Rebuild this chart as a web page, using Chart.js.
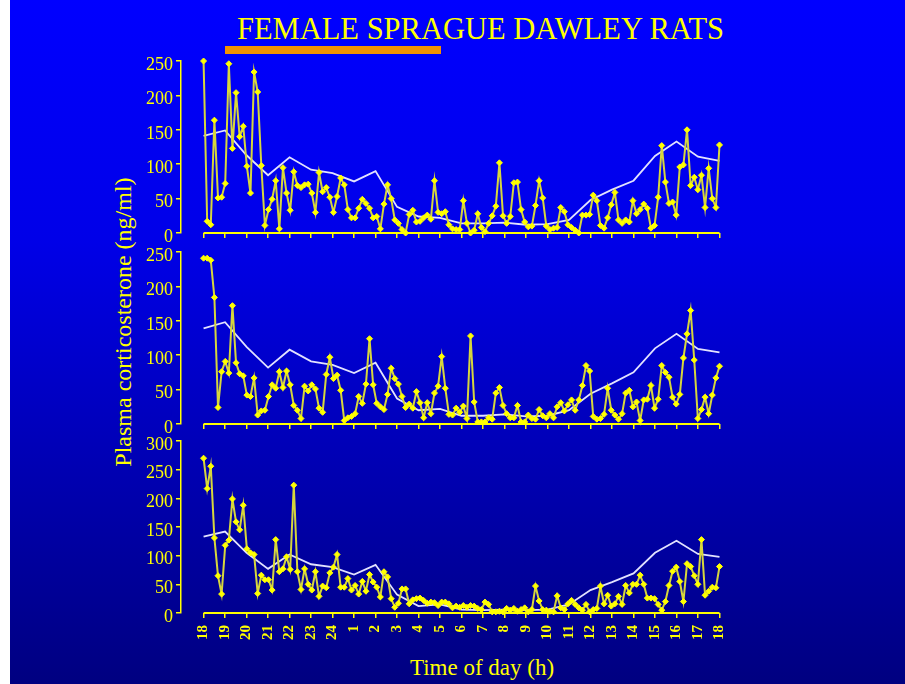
<!DOCTYPE html>
<html>
<head>
<meta charset="utf-8">
<script src="https://cdn.jsdelivr.net/npm/chart.js@4.4.1/dist/chart.umd.min.js"></script>
<style>
  html, body { margin: 0; padding: 0; }
  body { width: 905px; height: 684px; position: relative; overflow: hidden; background: #fff; }
  #slide { position: absolute; left: 10px; top: 0; width: 895px; height: 684px;
           background: linear-gradient(#0000ff 0%, #0000e8 35%, #0000a8 75%, #000080 100%); }
  canvas { position: absolute; }
  .txt { position: absolute; color: #ffff00; font-family: 'Liberation Serif', 'Times New Roman', serif; white-space: nowrap; }
  #title { left: 0; width: 961px; top: 14px; text-align: center; font-size: 30.5px; line-height: 31px; }
  #bar { position: absolute; left: 225px; top: 46px; width: 216px; height: 8px; background: #f39200; }
  #ytitle { left: -77px; width: 400px; top: 308px; text-align: center; font-size: 24px; line-height: 28px; transform: rotate(-90deg); }
  #xtitle { left: 282px; width: 400px; top: 654px; text-align: center; font-size: 23px; line-height: 28px; }
</style>
</head>
<body>
<div id="slide"></div>
<div class="txt" id="title">FEMALE SPRAGUE DAWLEY RATS</div>
<div id="bar"></div>
<div class="txt" id="ytitle">Plasma corticosterone (ng/ml)</div>
<div class="txt" id="xtitle">Time of day (h)</div>
<canvas id="panelA" width="700" height="210" style="left:100px;top:40px"></canvas>
<canvas id="panelB" width="700" height="210" style="left:100px;top:235px"></canvas>
<canvas id="panelC" width="700" height="259" style="left:100px;top:425px"></canvas>
<script>
// tick labels, 18h -> 18h next day
const hourLabels = ['18','19','20','21','22','23','24','1','2','3','4','5','6','7','8','9','10','11','12','13','14','15','16','17','18']

// individual samples (ng/ml), one panel each
const ratA = [250,17,12,164,51,52,72,246,123,204,
  140,155,97,58,234,205,98,11,34,49,
  76,6,95,58,33,89,69,66,70,71,
  58,30,88,60,66,52,30,53,80,70,
  34,22,22,36,49,43,36,22,24,6,
  42,70,50,19,14,5,0,27,33,16,
  17,22,26,20,76,30,28,31,12,6,
  5,5,47,14,0,4,28,8,2,14,
  25,39,102,25,14,24,73,74,34,16,
  9,10,40,76,51,10,5,7,8,37,
  31,12,8,4,0,26,26,27,55,47,
  11,7,22,41,59,19,14,19,16,47,
  28,34,42,36,7,11,52,127,74,43,
  45,26,96,99,150,69,81,63,84,37,
  94,50,37,128]

const ratB = [241,241,238,184,24,76,91,74,172,89,
  73,70,42,40,67,13,19,20,40,57,
  52,76,53,77,57,27,20,8,55,48,
  57,51,23,17,72,97,66,71,49,5,
  9,11,15,40,30,58,124,57,30,25,
  21,43,81,66,58,40,24,29,23,47,
  31,9,31,15,45,55,98,52,14,13,
  23,17,26,8,128,32,3,3,3,9,
  7,45,53,27,15,9,9,27,3,3,
  13,8,7,21,12,9,15,9,25,31,
  19,28,35,20,35,56,85,77,11,7,
  8,14,52,20,13,7,15,45,49,25,
  32,5,35,36,56,23,36,85,75,68,
  39,29,43,96,131,165,93,8,21,39,
  15,42,67,84]

const ratC = [270,217,256,131,65,33,118,127,199,159,
  145,188,112,105,102,34,66,58,58,40,
  128,72,77,98,76,223,72,41,77,50,
  40,72,29,47,44,70,80,102,45,45,
  60,40,48,33,55,38,67,54,45,28,
  72,63,25,10,17,42,42,16,23,25,
  26,22,17,19,18,13,19,19,16,9,
  12,10,13,10,13,12,8,6,19,15,
  2,2,3,2,8,5,8,3,6,9,
  2,6,47,21,6,5,3,2,30,9,
  6,16,22,15,9,5,15,2,6,8,
  47,16,31,12,16,29,15,48,35,50,
  50,66,50,26,26,25,15,5,20,48,
  73,80,55,20,86,81,65,50,128,31,
  38,45,44,81]

// hourly group means (white line)
const meanA = [141,149,113,84,110,92,87,75,90,38,24,22,14,14,15,12,13,19,48,63,76,112,133,111,105]
const meanB = [139,148,112,82,108,91,86,74,89,37,20,22,12,12,14,11,12,20,44,59,75,110,131,109,104]
const meanC = [133,142,105,77,102,85,80,67,84,32,12,15,6,5,6,5,6,15,40,54,69,105,126,103,98]

const YEL = '#ffff00'
const FONT = "'Liberation Serif', 'Times New Roman', serif"

// x axis line only spans 18h..18h, not back to the y axis
const xAxisLine = {
  id: 'xAxisLine',
  afterDraw(chart) {
    const x = chart.scales.x
    const y = chart.chartArea.bottom
    const c = chart.ctx
    c.save()
    c.strokeStyle = YEL
    c.lineWidth = 2
    c.beginPath()
    c.moveTo(x.getPixelForValue(0), y)
    c.lineTo(x.getPixelForValue(24), y)
    c.stroke()
    c.restore()
  }
}

function makePanel(id, vals, mean, yMax, pad, xH, showLabels) {
  const pts = vals.map((v, i) => ({ x: i * 24 / (vals.length - 1), y: v }))
  const meanPts = mean.map((v, i) => ({ x: i, y: v }))
  return new Chart(document.getElementById(id), {
    type: 'line',
    data: {
      datasets: [{
        data: pts,
        order: 0,
        borderColor: '#d6d63c',
        borderWidth: 2,
        pointStyle: 'rectRot',
        pointRadius: 3,
        pointBackgroundColor: YEL,
        pointBorderColor: YEL,
        pointBorderWidth: 1,
        tension: 0,
        clip: false
      }, {
        data: meanPts,
        order: 1,
        borderColor: '#e2e2ff',
        borderWidth: 1.8,
        pointRadius: 0,
        tension: 0,
        clip: false
      }]
    },
    options: {
      responsive: false,
      animation: false,
      events: [],
      layout: { padding: pad },
      plugins: { legend: { display: false }, tooltip: { enabled: false } },
      scales: {
        x: {
          type: 'linear',
          min: -1.05,
          max: 24,
          afterBuildTicks: s => { s.ticks = hourLabels.map((_, i) => ({ value: i })) },
          afterFit: s => { s.height = xH },
          border: { display: false },
          grid: { drawOnChartArea: false, color: YEL, lineWidth: 1.5, tickLength: 5 },
          ticks: {
            display: showLabels,
            autoSkip: false,
            minRotation: 90,
            maxRotation: 90,
            padding: 7,
            color: YEL,
            font: { family: FONT, size: 15, weight: 'bold' },
            callback: (v, i) => hourLabels[i]
          }
        },
        y: {
          min: 0,
          max: yMax,
          afterFit: s => { s.width = 81 },
          border: { color: YEL, width: 1.5 },
          grid: { drawOnChartArea: false, color: YEL, lineWidth: 1.5, tickLength: 5 },
          ticks: { stepSize: 50, color: YEL, padding: 3, labelOffset: 4, font: { family: FONT, size: 18 } }
        }
      }
    },
    plugins: [xAxisLine]
  })
}

makePanel('panelA', ratA, meanA, 250, { top: 21, bottom: 9, left: 0, right: 80.5 }, 8, false)
makePanel('panelB', ratB, meanB, 250, { top: 17, bottom: 13, left: 0, right: 80.5 }, 8, false)
makePanel('panelC', ratC, meanC, 300, { top: 16, bottom: 0, left: 0, right: 80.5 }, 71, true)
</script>
</body>
</html>
